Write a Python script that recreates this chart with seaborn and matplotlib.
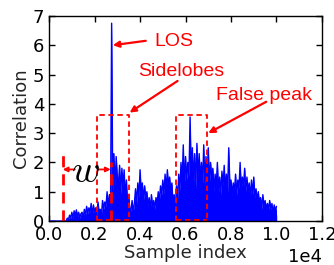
import numpy as np
import pandas as pd
import seaborn as sns
import matplotlib.pyplot as plt

# correlation output, one value every 50 samples
step = 50
corr = [
    0, 0, 0, 0, 0, 0, 0, 0, 0, 0, 0, 0, 0, 0, 0, 0,
    0.1, 0.05, 0.2, 0.1, 0.3,
    0.1, 0.35, 0.2, 0.38, 0.15, 0.3, 0.1, 0.25, 0.3, 0.12,
    0.4, 0.2, 0.5, 0.25, 0.45, 0.3, 0.6, 0.2, 0.55, 0.3,
    0.45, 0.2, 0.65, 0.3, 0.4, 0.2, 0.7, 0.4, 0.65, 0.5,
    1.0, 0.5, 0.9, 0.3,
    6.75,
    1.0, 2.3, 1.2, 2.2, 1.5, 1.3, 1.9, 0.9, 1.8, 1.2,
    1.75, 0.8, 1.4, 0.6, 0.9, 0.4, 0.35, 0.7, 0.3, 0.6,
    1.1, 0.6, 1.3, 0.8, 1.75, 1.0, 1.3, 0.7, 1.2, 0.8,
    1.0, 0.5, 0.8, 0.4, 0.9, 0.5, 0.7, 0.4, 0.8, 0.6,
    1.0, 0.7, 1.2, 0.9, 1.4, 0.9, 1.6, 1.1, 1.75, 1.2,
    1.5, 1.0, 1.3, 0.6, 0.9, 0.4, 1.2, 0.8,
    1.6, 1.0, 2.0, 1.3, 2.6, 1.2, 2.2, 1.4, 2.0, 1.5,
    3.55, 1.6, 2.5, 1.3, 2.3, 1.1, 2.65, 1.5, 2.3, 1.4,
    2.0, 1.3, 2.6, 1.2, 2.2, 1.6, 2.5, 1.3, 2.0, 1.5,
    1.8, 1.0, 1.6, 1.2, 2.0, 1.0, 1.5, 0.9, 1.7, 1.2,
    1.9, 1.1, 1.6, 1.0, 2.5, 1.2, 1.4, 0.9, 1.3, 1.0,
    1.6, 0.9, 1.4, 1.1, 2.0, 1.1, 1.5, 1.2, 1.8, 1.0,
    1.5, 1.0, 1.3, 0.8, 1.4, 0.9, 1.5, 0.8, 1.1, 0.7,
    1.0, 0.6, 0.8, 0.4, 0.9, 0.5, 0.7, 0.4, 0.6, 0.4,
    0.7, 0.4, 0.6, 0.3, 0.55, 0.35, 0.5,
]
sample_idx = np.arange(len(corr)) * step

# annotation layout
sidelobe_box = (2125, 3520, 3.63)
falsepeak_box = (5580, 6960, 3.63)
w_left, w_right = 600, 2710

df = pd.DataFrame({"sample": sample_idx, "corr": corr})

sns.set_theme(style="ticks", rc={
    "xtick.direction": "in", "ytick.direction": "in",
    "xtick.top": True, "ytick.right": True,
    "axes.edgecolor": "black", "axes.linewidth": 1.0,
})
plt.rcParams["font.family"] = ["DejaVu Sans"]
plt.rcParams["mathtext.fontset"] = "cm"

fig = plt.figure(figsize=(3.34, 2.65), dpi=100)
ax = fig.add_axes([0.147, 0.166, 0.817, 0.774])

blue = "#0000ff"
sns.lineplot(data=df, x="sample", y="corr", color=blue, lw=1, ax=ax)
ax.fill_between(df["sample"], df["corr"], color=blue, lw=0)

red = "#ff0000"
for x0, x1, top in [sidelobe_box, falsepeak_box]:
    ax.plot([x0, x0, x1, x1], [0, top, top, 0], ls="--", color=red, lw=1.3,
            dashes=(3, 2))
    ax.plot([x0, x1], [0.02, 0.02], ls="--", color=red, lw=1.3, dashes=(3, 2))

ax.plot([w_left, w_left], [0, 2.29], ls="--", color=red, lw=2, dashes=(4, 2.5))
ax.plot([w_right, w_right], [0, 2.0], ls="--", color=red, lw=2, dashes=(4, 2.5))
arw = dict(arrowstyle="-|>", color=red, lw=1.3, mutation_scale=7, shrinkA=0, shrinkB=0)
ax.annotate("", xy=(w_left, 1.76), xytext=(1130, 1.76), arrowprops=arw)
ax.annotate("", xy=(w_right, 1.76), xytext=(2150, 1.76), arrowprops=arw)
ax.text(1620, 1.72, r"$w$", fontsize=28, ha="center", va="center", color="black")

tfont = dict(color=red, family="Liberation Sans", ha="center", va="center")
arw2 = dict(arrowstyle="-|>", color=red, lw=1.6, mutation_scale=9, shrinkA=0, shrinkB=0)
ax.annotate("", xy=(2800, 6.0), xytext=(4250, 6.15), arrowprops=arw2)
ax.text(5500, 6.12, "LOS", fontsize=14, **tfont)
ax.annotate("", xy=(3540, 3.7), xytext=(5650, 4.78), arrowprops=arw2)
ax.text(5800, 5.1, "Sidelobes", fontsize=14, **tfont)
ax.annotate("", xy=(7000, 3.0), xytext=(9550, 4.07), arrowprops=arw2)
ax.text(9450, 4.3, "False peak", fontsize=14, **tfont)

ax.set_xlim(0, 12000)
ax.set_ylim(0, 7)
ax.set_xticks(np.arange(0, 12001, 2000))
ax.set_yticks(np.arange(0, 8, 1))
ax.ticklabel_format(style="sci", axis="x", scilimits=(0, 0))
ax.tick_params(labelsize=13, length=4, width=1, colors="black")
ax.xaxis.get_offset_text().set_fontsize(13)
ax.set_xlabel("Sample index", fontsize=13, labelpad=0)
ax.set_ylabel("Correlation", fontsize=13, labelpad=2)

fig.savefig("out.png", dpi=100)
